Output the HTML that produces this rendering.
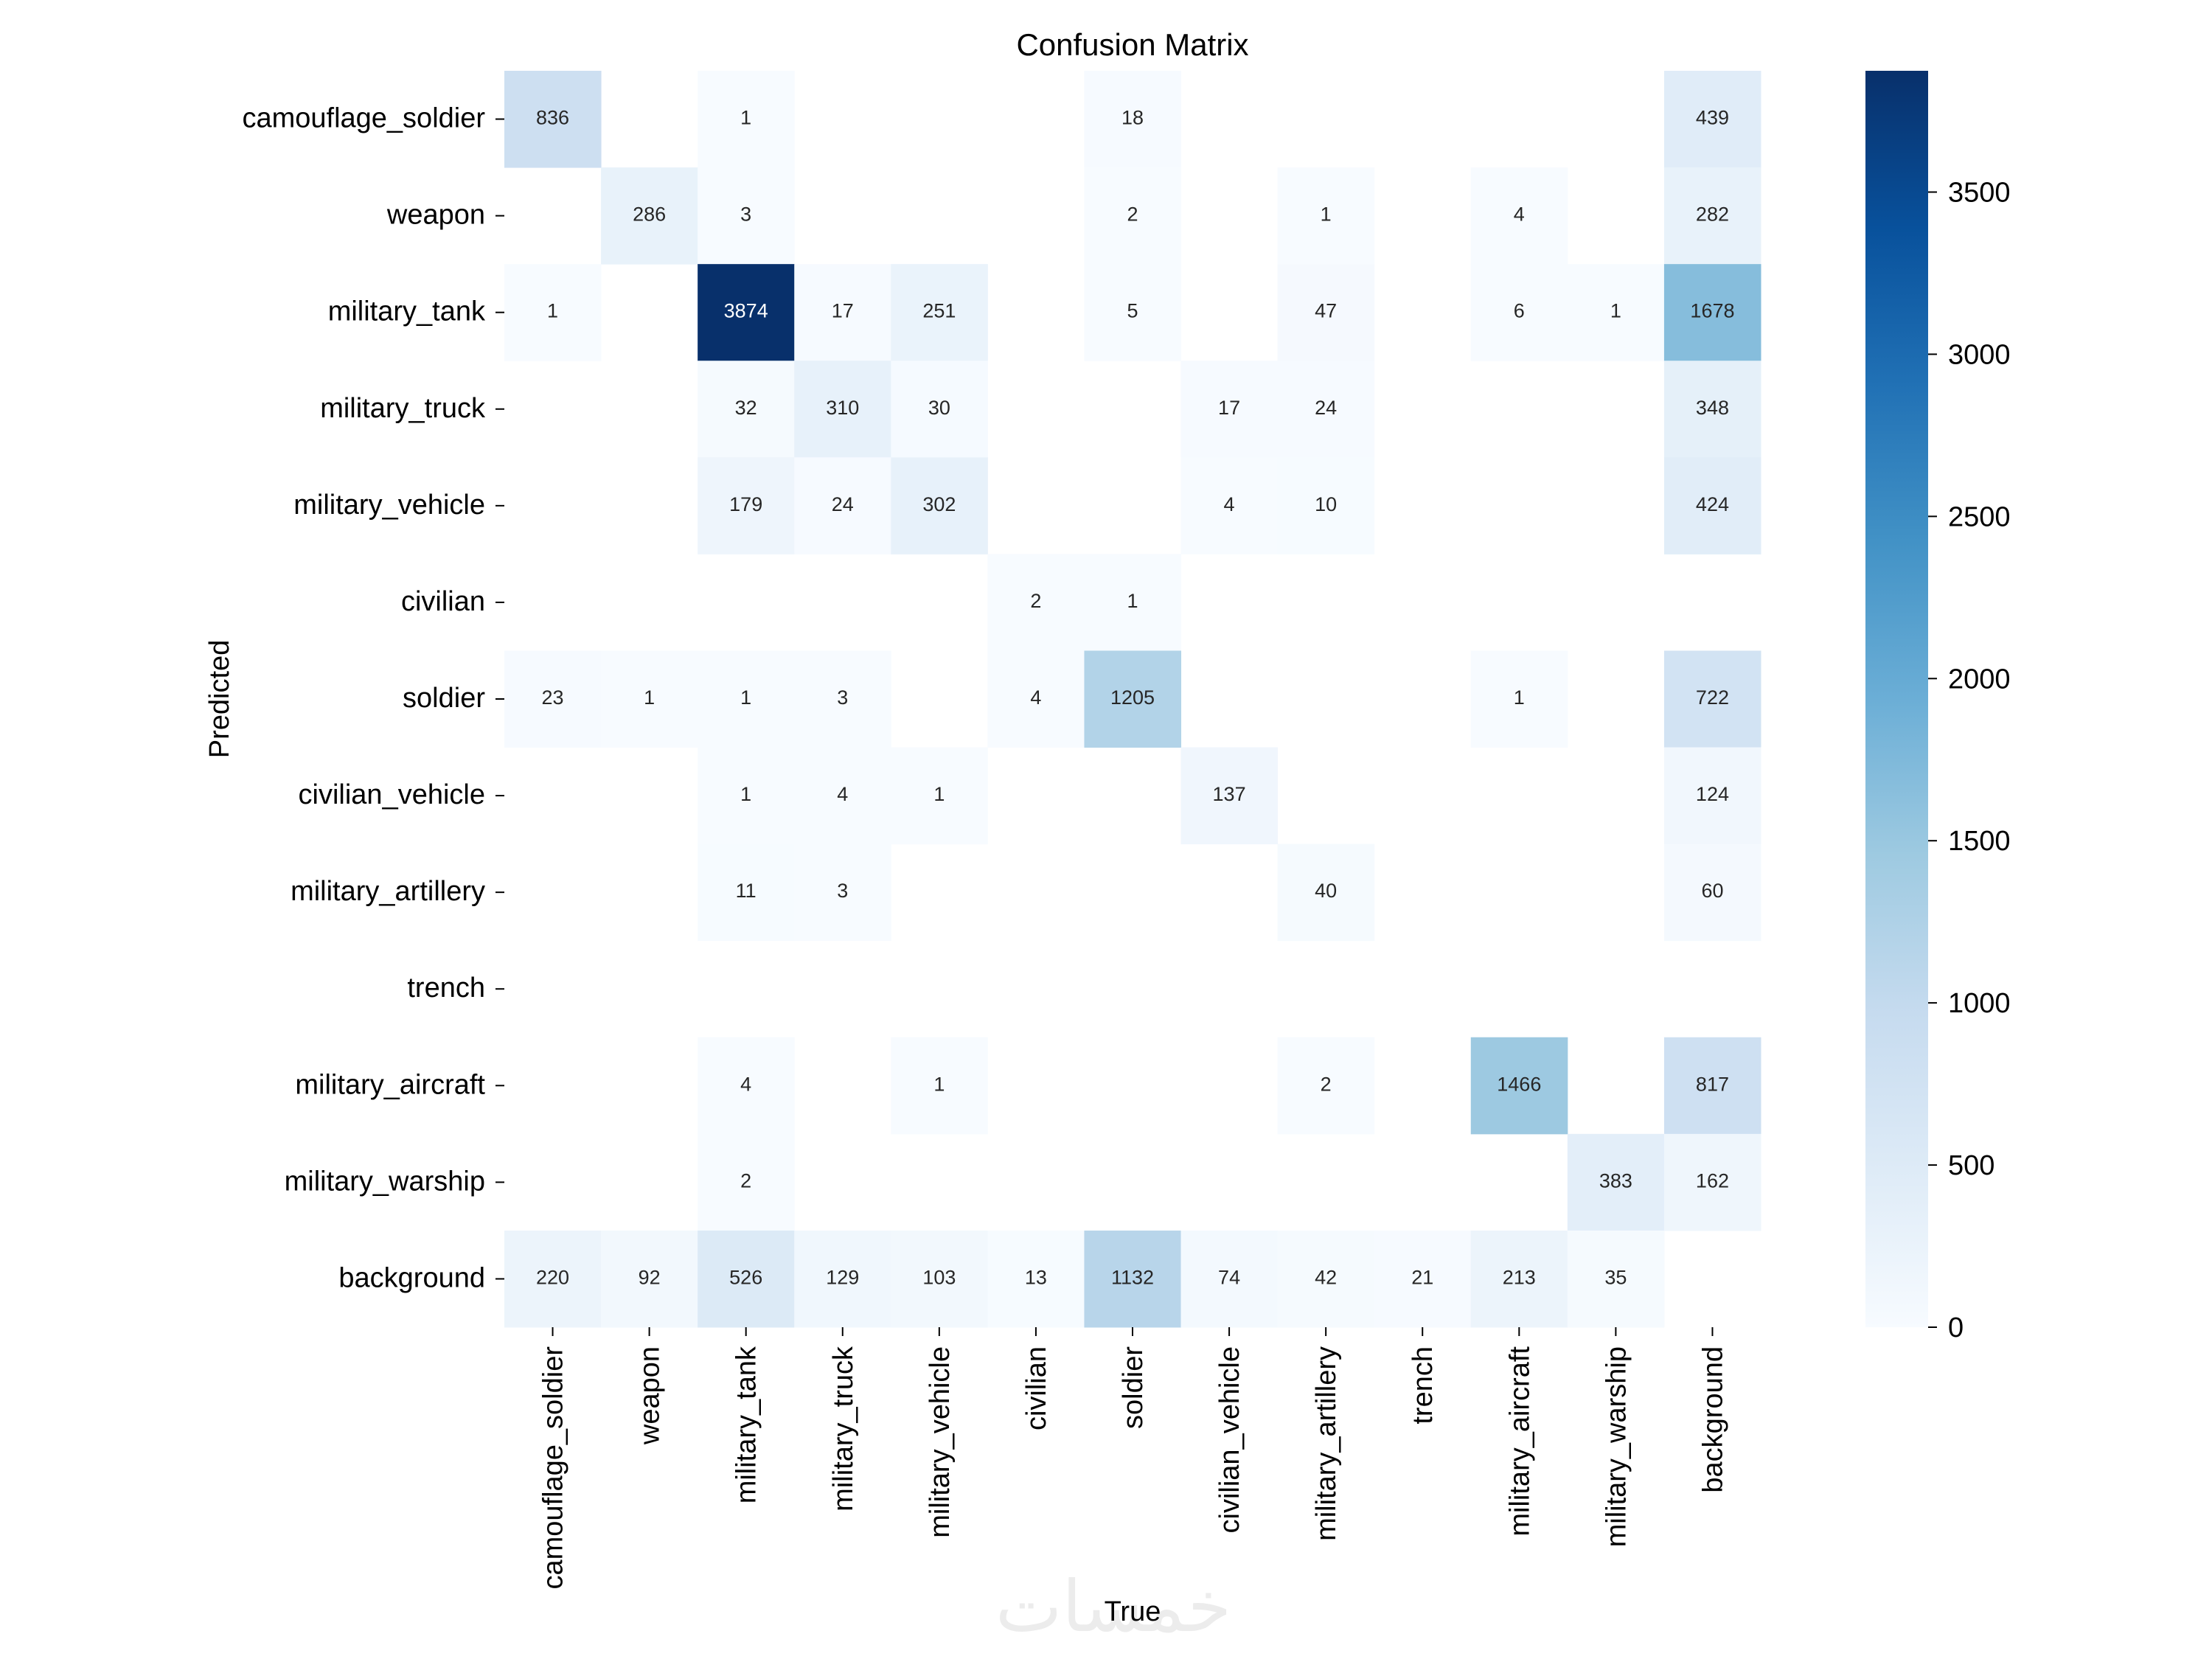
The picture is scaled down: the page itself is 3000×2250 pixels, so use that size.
<!DOCTYPE html>
<html><head><meta charset="utf-8"><style>
html,body{margin:0;padding:0;background:#fff;}
svg{display:block;font-family:"Liberation Sans",Arial,sans-serif;}
</style></head><body>
<svg id="chart" width="3000" height="2250" viewBox="0 0 3000 2250" xmlns="http://www.w3.org/2000/svg">
<rect width="3000" height="2250" fill="#fff"/>
<text x="1510" y="2212" font-size="96" text-anchor="middle" fill="#ececec" font-family="DejaVu Sans, sans-serif">خمسات</text>
<text x="1536" y="75" font-size="42" text-anchor="middle" fill="#000">Confusion Matrix</text>
<g id="cells"></g>
<g id="yticks"></g>
<g id="xticks"></g>
<defs><linearGradient id="cbgrad" x1="0" y1="1" x2="0" y2="0">
<stop offset="0" stop-color="#f7fbff"/><stop offset="0.125" stop-color="#deebf7"/><stop offset="0.25" stop-color="#c6dbef"/><stop offset="0.375" stop-color="#9ecae1"/><stop offset="0.5" stop-color="#6baed6"/><stop offset="0.625" stop-color="#4292c6"/><stop offset="0.75" stop-color="#2171b5"/><stop offset="0.875" stop-color="#08519c"/><stop offset="1" stop-color="#08306b"/>
</linearGradient></defs>
<rect x="2530" y="96" width="85" height="1704" fill="url(#cbgrad)"/>
<g id="cbticks"></g>
<text x="0" y="0" font-size="38" text-anchor="middle" transform="translate(310,948) rotate(-90)">Predicted</text>
<text x="1536" y="2198" font-size="38" text-anchor="middle">True</text>
</svg>
<script>
const labels = ["camouflage_soldier","weapon","military_tank","military_truck","military_vehicle","civilian","soldier","civilian_vehicle","military_artillery","trench","military_aircraft","military_warship","background"];
const row0 = [836,0,1,0,0,0,18,0,0,0,0,0,439];
const row1 = [0,286,3,0,0,0,2,0,1,0,4,0,282];
const row2 = [1,0,3874,17,251,0,5,0,47,0,6,1,1678];
const row3 = [0,0,32,310,30,0,0,17,24,0,0,0,348];
const row4 = [0,0,179,24,302,0,0,4,10,0,0,0,424];
const row5 = [0,0,0,0,0,2,1,0,0,0,0,0,0];
const row6 = [23,1,1,3,0,4,1205,0,0,0,1,0,722];
const row7 = [0,0,1,4,1,0,0,137,0,0,0,0,124];
const row8 = [0,0,11,3,0,0,0,0,40,0,0,0,60];
const row9 = [0,0,0,0,0,0,0,0,0,0,0,0,0];
const row10 = [0,0,4,0,1,0,0,0,2,0,1466,0,817];
const row11 = [0,0,2,0,0,0,0,0,0,0,0,383,162];
const row12 = [220,92,526,129,103,13,1132,74,42,21,213,35,0];
const matrix = [row0,row1,row2,row3,row4,row5,row6,row7,row8,row9,row10,row11,row12];
const cbTicks = [0,500,1000,1500,2000,2500,3000,3500];

const NS="http://www.w3.org/2000/svg";
const L=684,T=96,W=1704,H=1704,n=labels.length,cw=W/n,ch=H/n;
const vmax=Math.max(...matrix.flat());
const xs=i=>L+i*cw, ys=j=>T+j*ch;
const stops=[[247,251,255],[222,235,247],[198,219,239],[158,202,225],[107,174,214],[66,146,198],[33,113,181],[8,81,156],[8,48,107]];
function cmap(t){t=Math.max(0,Math.min(1,t))*8;const i=Math.min(7,Math.floor(t)),f=t-i;const a=stops[i],b=stops[i+1];return [0,1,2].map(k=>Math.round(a[k]+(b[k]-a[k])*f));}
function mk(tag,attrs,parent){const e=document.createElementNS(NS,tag);for(const k in attrs)e.setAttribute(k,attrs[k]);parent.appendChild(e);return e;}
const cells=document.getElementById('cells');
matrix.forEach((row,r)=>row.forEach((v,c)=>{
  if(!v)return;
  const col=cmap(v/vmax);
  const rect=mk('rect',{x:xs(c),y:ys(r),width:cw+0.5,height:ch+0.5,fill:`rgb(${col})`},cells);
  
  
  const lum=(0.2126*col[0]+0.7152*col[1]+0.0722*col[2])/255;
  const t=mk('text',{x:xs(c)+cw/2,y:ys(r)+ch/2+7,'font-size':27,'text-anchor':'middle',fill:lum<0.45?'#fff':'#262626'},cells);
  t.textContent=v;
  
  
}));
const yt=document.getElementById('yticks'),xt=document.getElementById('xticks');
labels.forEach((lab,i)=>{
  const cy=ys(i)+ch/2;
  const tk=mk('line',{x1:L-12,x2:L,y1:cy,y2:cy,stroke:'#000','stroke-width':2},yt);
  
  
  const t=mk('text',{x:L-26,y:cy+11,'font-size':38,'text-anchor':'end'},yt);
  t.textContent=lab;
  
  
  const cx=xs(i)+cw/2;
  const tk2=mk('line',{x1:cx,x2:cx,y1:T+H,y2:T+H+12,stroke:'#000','stroke-width':2},xt);
  
  
  const t2=mk('text',{x:0,y:0,'font-size':38,'text-anchor':'end',transform:`translate(${cx+13},${T+H+26}) rotate(-90)`},xt);
  t2.textContent=lab;
  
  
});
const cb=document.getElementById('cbticks');
cbTicks.forEach(v=>{
  const y=T+H-v/vmax*H;
  const l=mk('line',{x1:2615,x2:2627,y1:y,y2:y,stroke:'#000','stroke-width':2},cb);
  
  
  const t=mk('text',{x:2642,y:y+13,'font-size':38},cb);
  t.textContent=v;
  
  
});
</script>
</body></html>
